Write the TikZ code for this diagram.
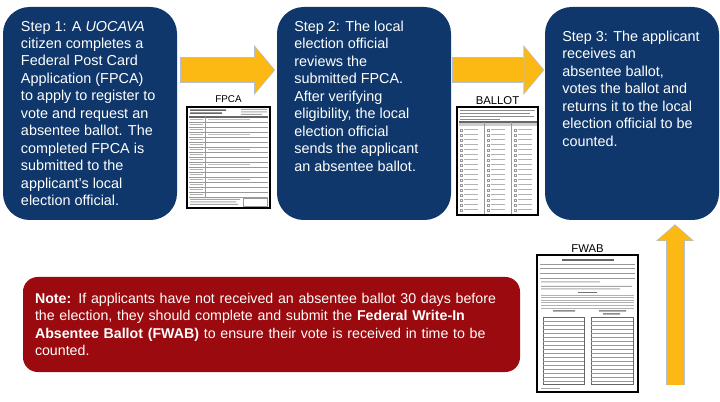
\documentclass[tikz,border=0pt]{standalone}
\usepackage{fontspec}
\setmainfont{Liberation Sans}
\usepackage{tikz}
\usetikzlibrary{arrows.meta,positioning}
\definecolor{fvNavy}{HTML}{0F376B}
\definecolor{fvGold}{HTML}{FDB913}
\definecolor{fvEdge}{HTML}{B4C0D2}
\definecolor{fvRed}{HTML}{9B0A0E}

\begin{document}
\begin{tikzpicture}[
    x=0.75pt,y=-0.75pt,
    font=\fontsize{10.8}{13.1}\selectfont,
    stepbox/.style={fill=fvNavy,rounded corners=20pt,minimum width=130.5pt,minimum height=159.75pt},
    steptxt/.style={inner sep=0pt,align=left,text=white},
    notebox/.style={fill=fvRed,rounded corners=11pt,minimum width=372.75pt,minimum height=71.25pt,
                    inner xsep=9pt,text width=354.75pt,align=left,text=white,
                    font=\fontsize{10.65}{13.2}\selectfont},
    form/.style={draw=black,line width=0.8pt,fill=white,inner sep=0pt},
    formlbl/.style={inner sep=0pt,font=\fontsize{8.5}{10}\selectfont},
    rule/.style={draw=black!40,line width=0.3pt},
    ink/.style={draw=black!60,line width=0.8pt},
    gold/.style={draw=fvGold,line width=18pt,-{Triangle[length=14.25pt,width=34.5pt,line width=0pt]}},
    goldedge/.style={draw=fvEdge,line width=19.5pt,-{Triangle[length=15.75pt,width=37.5pt,line width=0pt]}},
    goldv/.style={draw=fvGold,line width=12.75pt,-{Triangle[length=11.25pt,width=26.25pt,line width=0pt]}},
    goldvedge/.style={draw=fvEdge,line width=14.25pt,-{Triangle[length=12.5pt,width=28.5pt,line width=0pt]}}
  ]
    \useasboundingbox (0,0) rectangle (720,402);

    \node[stepbox] (step1) at (90,113.5)  {};
    \node[stepbox] (step2) at (364,113.5) {};
    \node[stepbox] (step3) at (632,113.5) {};

    \node[steptxt,below right=10.5pt and 13.5pt of step1.north west] (s1txt)
      {Step 1: A \textit{UOCAVA}\\ citizen completes a\\ Federal Post Card\\ Application (FPCA)\\
       to apply to register to\\ vote and request an\\ absentee ballot. The\\ completed FPCA is\\
       submitted to the\\ applicant's local\\ election official.};
    \node[steptxt,below right=10.5pt and 13pt of step2.north west] (s2txt)
      {Step 2: The local\\ election official\\ reviews the\\ submitted FPCA.\\ After verifying\\
       eligibility, the local\\ election official\\ sends the applicant\\ an absentee ballot.};
    \node[steptxt,below right=18pt and 13pt of step3.north west] (s3txt)
      {Step 3: The applicant\\ receives an\\ absentee ballot,\\ votes the ballot and\\
       returns it to the local\\ election official to be\\ counted.};

    \node[notebox] (note) at (271.5,324.5)
      {\textbf{Note:} If applicants have not received an absentee ballot 30 days before\\
       the election, they should complete and submit the \textbf{Federal Write-In}\\
       \textbf{Absentee Ballot (FWAB)} to ensure their vote is received in time to be\\
       counted.};

    \node[form,minimum width=62.25pt,minimum height=75.75pt] (fpca)   at (228.5,157.5) {};
    \node[form,minimum width=60.75pt,minimum height=81pt]    (ballot) at (497.5,161)   {};
    \node[form,minimum width=75.75pt,minimum height=102.75pt] (fwab)  at (587.5,323.5) {};
    \node[formlbl,font=\fontsize{7.4}{9}\selectfont,above=3pt of fpca] (fpcalbl) {FPCA};
    \node[formlbl,above=1.5pt of ballot] (ballotlbl) {BALLOT};
    \node[formlbl,above=1.5pt of fwab]   (fwablbl)   {FWAB};

    \fill[black!60] (190,109.5) rectangle (226,111) (190,112.5) rectangle (222,114);
    \fill[black!35] (241,109) rectangle (267,110) (241,111.5) rectangle (267,112.5) (241,114) rectangle (262,115);
    \draw[ink] (189,117) -- (268,117);
    \foreach \y in {122,127,...,197} \draw[rule] (189,\y) -- (268,\y);
    \draw[rule] (205,117) -- (205,197);
    \foreach \y in {119,124,...,194} \fill[black!30] (190,\y) rectangle (203,\y+1.2);
    \foreach \y in {119,134,149,164,179} \fill[black!25] (208,\y) rectangle (250,\y+1);
    \fill[black!35] (190,199) rectangle (240,200) (190,201.5) rectangle (236,202.5) (190,204) rectangle (238,205);
    \draw[rule] (243,198) rectangle (267,206);

    \foreach \y/\w in {110/535,113/530,116/534,119/500} \fill[black!45] (460,\y) rectangle (\w,\y+1);
    \draw[ink] (459,122) -- (537,122);
    \fill[black!20] (459,123) rectangle (537,126);
    \draw[rule] (484,122) -- (484,214) (511,122) -- (511,214);
    \foreach \x in {460,487,514}
      \foreach \y in {129,134,...,209} {
        \draw[rule] (\x,\y) rectangle (\x+2,\y+2);
        \fill[black!30] (\x+4,\y+0.5) rectangle (\x+18,\y+1.5);
      }

    \fill[black!60] (562,259.5) rectangle (614,261);
    \foreach \y in {264,268,273,278} \draw[rule] (540,\y) -- (635,\y);
    \fill[black!35] (541,281.5) rectangle (600,282.5) (541,286) rectangle (632,287) (541,288.5) rectangle (620,289.5);
    \fill[black!55] (578,292) rectangle (597,293.5);
    \foreach \y in {295,297.5,...,307.5} \fill[black!30] (541,\y) rectangle (634,\y+1);
    \fill[black!45] (553,310) rectangle (575,311.5) (599,310) rectangle (626,311.5) (603,313) rectangle (620,314.5);
    \draw[ink,line width=0.5pt] (543,317) rectangle (584,384) (591,317) rectangle (633,384);
    \foreach \y in {321,325,...,381} \draw[rule] (543,\y) -- (584,\y) (591,\y) -- (633,\y);
    \fill[black!35] (541,388) rectangle (560,389);

    \draw[goldedge,shorten <=2.25pt,shorten >=1.2pt] ([yshift=32.6pt]step1.east) -- ([yshift=32.6pt]step2.west);
    \draw[gold,shorten <=3pt,shorten >=2pt] ([yshift=32.6pt]step1.east) -- ([yshift=32.6pt]step2.west);
    \draw[goldedge,shorten <=0.75pt,shorten >=0.3pt] ([yshift=32.6pt]step2.east) -- ([yshift=32.6pt]step3.west);
    \draw[gold,shorten <=1.5pt,shorten >=1.1pt] ([yshift=32.6pt]step2.east) -- ([yshift=32.6pt]step3.west);

    \coordinate (fwabup) at (675,385);
    \draw[goldvedge,shorten >=3pt] (fwabup) -- (fwabup |- step3.south);
    \draw[goldv,shorten >=3.75pt] (fwabup) -- (fwabup |- step3.south);
  \end{tikzpicture}
\end{document}
